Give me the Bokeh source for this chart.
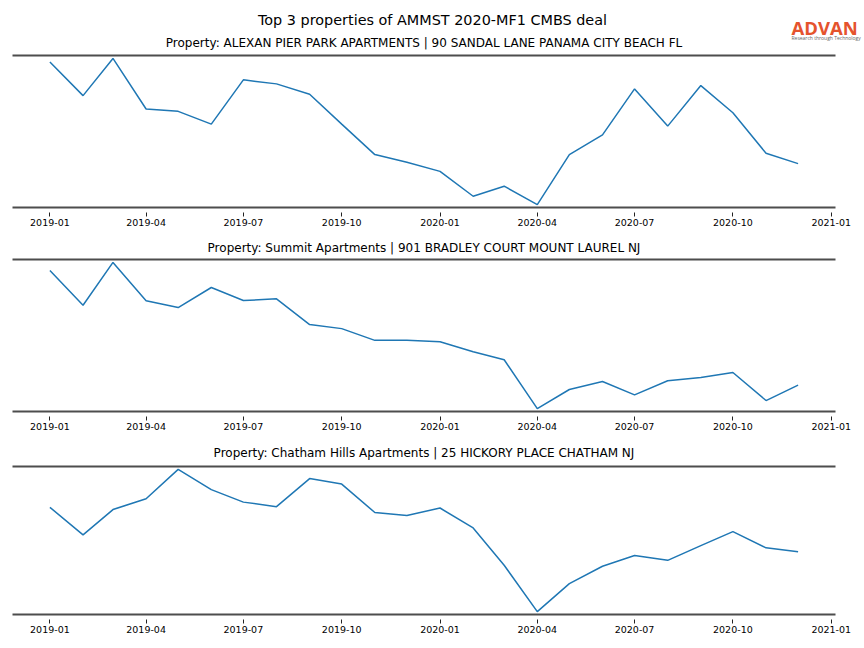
import pandas as pd
from bokeh.plotting import figure
from bokeh.models import Range1d, DatetimeAxis, FixedTicker, Title, Label
from bokeh.layouts import column
from bokeh.embed import file_html
from bokeh.resources import INLINE

# ---------------- data ----------------
months = ["2019-01", "2019-02", "2019-03", "2019-04", "2019-05", "2019-06",
          "2019-07", "2019-08", "2019-09", "2019-10", "2019-11", "2019-12",
          "2020-01", "2020-02", "2020-03", "2020-04", "2020-05", "2020-06",
          "2020-07", "2020-08", "2020-09", "2020-10", "2020-11", "2020-12"]
tick_labels = ["2019-01", "2019-04", "2019-07", "2019-10", "2020-01",
               "2020-04", "2020-07", "2020-10", "2021-01"]

main_title = "Top 3 properties of AMMST 2020-MF1 CMBS deal"
panel_titles = [
    "Property: ALEXAN PIER PARK APARTMENTS | 90 SANDAL LANE PANAMA CITY BEACH FL",
    "Property: Summit Apartments | 901 BRADLEY COURT MOUNT LAUREL NJ",
    "Property: Chatham Hills Apartments | 25 HICKORY PLACE CHATHAM NJ",
]
logo_text = "ADVAN"
logo_tagline = "Research through Technology"

alexan = [144.7, 111.3, 148.3, 98.0, 95.7, 83.0, 127.0, 123.0, 112.7, 83.0,
          52.7, 45.0, 36.0, 11.3, 21.3, 3.0, 52.7, 72.3, 118.0, 81.0,
          121.3, 94.3, 54.0, 43.7]
summit = [140.0, 105.3, 148.0, 109.7, 103.0, 123.0, 110.0, 111.7, 86.0, 82.0,
          70.3, 70.3, 69.0, 59.0, 51.0, 2.3, 21.3, 29.3, 16.0, 30.0,
          33.3, 38.3, 10.3, 25.7]
chatham = [108.0, 80.0, 105.7, 116.7, 146.7, 126.0, 113.3, 108.7, 137.3, 131.7,
           102.7, 99.7, 107.3, 87.0, 49.0, 1.7, 30.3, 48.0, 59.0, 54.0,
           69.0, 83.3, 66.7, 62.7]
series = [alexan, summit, chatham]

# ---------------- styling ----------------
LINE = "#1f77b4"
SPINE = "#4d4d4d"
FONT = "DejaVu Sans"
W = 862
HEADER_H = 53

dates = pd.to_datetime(months)
x_ms = [d.timestamp() * 1000 for d in dates]
span = x_ms[-1] - x_ms[0]
x_start, x_end = x_ms[0] - 0.05 * span, x_ms[-1] + 0.05 * span
tick_ms = [pd.Timestamp(t).timestamp() * 1000 for t in tick_labels]
overrides = {t: lab for t, lab in zip(tick_ms, tick_labels)}

# ---------------- header (suptitle, first panel title, logo) ----------------
hdr = figure(width=W, height=HEADER_H, x_axis_location=None, y_axis_location=None,
             x_range=Range1d(0, W), y_range=Range1d(HEADER_H, 0),
             output_backend="svg", toolbar_location=None,
             min_border_left=0, min_border_right=0, min_border_top=0, min_border_bottom=0)
hdr.grid.visible = False
hdr.outline_line_color = None
hdr.background_fill_color = "white"
hdr.border_fill_color = "white"
hdr.add_layout(Label(x=432, y=19, text=main_title, text_font=FONT,
                     text_font_size="14.4px", text_color="black",
                     text_align="center", text_baseline="middle"))
hdr.add_layout(Label(x=423.5, y=42, text=panel_titles[0], text_font=FONT,
                     text_font_size="12px", text_color="black",
                     text_align="center", text_baseline="middle"))
hdr.add_layout(Label(x=791, y=26.5, text=logo_text, text_font="Open Sans",
                     text_font_style="bold", text_font_size="18.5px",
                     text_color="#e5532d", text_align="left", text_baseline="middle"))
hdr.add_layout(Label(x=791, y=37.5, text=logo_tagline, text_font="Open Sans",
                     text_font_size="5px", text_color="#666666",
                     text_align="left", text_baseline="middle"))

# ---------------- panels ----------------
heights = [233 - HEADER_H, 203, 204]
tops = [2, 26, 29]
standoffs = [0, 10, 14]

figs = []
for i, (vals, ttl) in enumerate(zip(series, panel_titles)):
    lo, hi = min(vals), max(vals)
    pad = 0.02 * (hi - lo)
    p = figure(width=W, height=heights[i], x_axis_type=None, y_axis_location=None,
               x_range=Range1d(x_start, x_end), y_range=Range1d(lo - pad, hi + pad),
               output_backend="svg", toolbar_location=None,
               min_border_left=12, min_border_right=27,
               min_border_top=tops[i], min_border_bottom=heights[i] - tops[i] - (149 if i == 2 else 152))
    p.grid.visible = False
    p.outline_line_color = None
    p.background_fill_color = "white"
    p.border_fill_color = "white"

    bottom = DatetimeAxis(ticker=FixedTicker(ticks=tick_ms))
    bottom.major_label_overrides = overrides
    bottom.axis_line_color = SPINE
    bottom.axis_line_width = 2
    bottom.major_tick_in = -5
    bottom.major_tick_out = 9
    bottom.minor_tick_in = 0
    bottom.minor_tick_out = 0
    bottom.major_tick_line_color = "#222222"
    bottom.major_tick_line_width = 1
    bottom.major_label_standoff = 2
    bottom.major_label_text_font = FONT
    bottom.major_label_text_font_size = "9.5px"
    bottom.major_label_text_color = "black"
    p.add_layout(bottom, "below")

    top = DatetimeAxis(ticker=FixedTicker(ticks=[]))
    top.axis_line_color = SPINE
    top.axis_line_width = 2
    top.major_tick_in = 0
    top.major_tick_out = 0
    top.minor_tick_in = 0
    top.minor_tick_out = 0
    top.major_label_text_font_size = "0px"
    top.major_label_standoff = 0
    p.add_layout(top, "above")

    if i > 0:
        p.add_layout(Title(text=ttl, align="center", text_font=FONT,
                           text_font_size="12px", text_font_style="normal",
                           text_color="black", standoff=standoffs[i]), "above")

    p.line(x_ms, vals, line_color=LINE, line_width=1.5)
    figs.append(p)

panels = column(*figs, spacing=0)
# header is a separate root so that its frame spans the full page width
open("out.html", "w").write(file_html([hdr, panels], INLINE))
